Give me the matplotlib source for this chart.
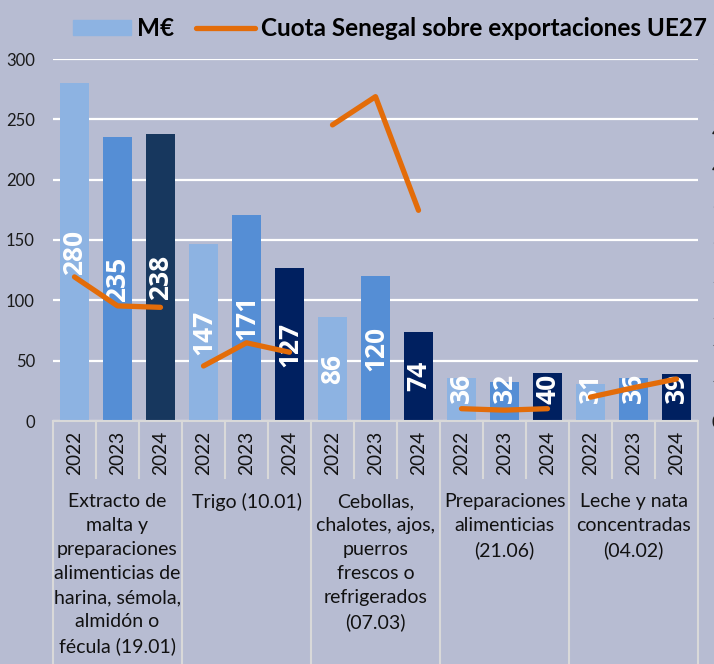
import matplotlib.pyplot as plt
from matplotlib.patches import Patch
from matplotlib.lines import Line2D
from matplotlib.ticker import FuncFormatter
import numpy as np

plt.rcParams['font.family'] = ['Lato', 'DejaVu Sans']

grupos = ['Extracto de\nmalta y\npreparaciones\nalimenticias de\nharina, sémola,\nalmidón o\nfécula (19.01)',
          'Trigo (10.01)',
          'Cebollas,\nchalotes, ajos,\npuerros\nfrescos o\nrefrigerados\n(07.03)',
          'Preparaciones\nalimenticias\n(21.06)',
          'Leche y nata\nconcentradas\n(04.02)']
anios = ['2022', '2023', '2024']
meur = [[280, 235, 238],
        [147, 171, 127],
        [86, 120, 74],
        [36, 32, 40],
        [31, 36, 39]]
cuota = [[1.99, 1.59, 1.57],
         [0.76, 1.08, 0.95],
         [4.09, 4.48, 2.91],
         [0.17, 0.15, 0.17],
         [0.33, 0.46, 0.58]]

fondo = '#b7bcd2'
gris = '#d9d9d9'
naranja = '#e36c09'
colores = [['#8db3e2', '#558ed5', '#17375e']] + [['#8db3e2', '#558ed5', '#002060']] * 4

fig = plt.figure(figsize=(7.14, 6.64), dpi=100, facecolor=fondo)
ax = fig.add_axes([53/714, 243/664, 645/714, 362/664])
ax.set_facecolor(fondo)

n = len(anios)
for g, vals in enumerate(meur):
    xs = np.arange(n) + g * n
    ax.bar(xs, vals, width=0.67, color=colores[g], zorder=2)
    for x, v in zip(xs, vals):
        ax.text(x, max(v / 2, 27), str(v), rotation=90, ha='center', va='center',
                color='white', fontsize=19, fontweight='bold', zorder=4,
                family=['Open Sans', 'DejaVu Sans'])

ax.set_xlim(-0.5, len(grupos) * n - 0.5)
ax.set_ylim(0, 300)
ax.set_yticks(range(0, 301, 50))
ax.yaxis.grid(True, color='white', linewidth=1.6, zorder=0)
ax.set_axisbelow(True)
ax.tick_params(axis='y', length=0, pad=13, labelsize=12, colors='#1a1a1a')
ax.set_xticks([])
for s in ax.spines.values():
    s.set_visible(False)

ax2 = ax.twinx()
for g, vals in enumerate(cuota):
    xs = np.arange(n) + g * n
    ax2.plot(xs, vals, color=naranja, linewidth=3.8, solid_capstyle='round', zorder=5)
ax2.set_ylim(0, 5)
ax2.set_yticks(np.arange(0, 5.01, 0.5))
ax2.yaxis.set_major_formatter(FuncFormatter(lambda v, p: '%d%%' % int(v + 0.5)))
ax2.tick_params(axis='y', length=0, pad=10, labelsize=12, colors='#1a1a1a')
for s in ax2.spines.values():
    s.set_visible(False)

# eje de categorias de dos niveles
tr = ax.get_xaxis_transform()
px = 1 / 362
ax.plot([-0.5, len(grupos) * n - 0.5], [0, 0], color=gris, lw=1.5, transform=tr, clip_on=False)
for i in range(len(grupos) * n + 1):
    x = i - 0.5
    bajo = -243 * px if i % n == 0 else -57 * px
    ax.plot([x, x], [0, bajo], color=gris, lw=1.5, transform=tr, clip_on=False)
for g, nombre in enumerate(grupos):
    for j, a in enumerate(anios):
        ax.text(g * n + j, -10 * px, a, rotation=90, ha='center', va='top',
                fontsize=13.8, transform=tr, color='#111111')
    ax.text(g * n + 1, -72 * px, nombre, ha='center', va='top', fontsize=14,
            linespacing=1.5, transform=tr, color='#111111')

handles = [Patch(color='#8db3e2'), Line2D([], [], color=naranja, lw=3.8, solid_capstyle='round')]
leg = fig.legend(handles, ['M€', 'Cuota Senegal sobre exportaciones UE27'], ncol=2,
                 loc='center', bbox_to_anchor=(0.546, 0.957), frameon=False,
                 handlelength=2.4, handleheight=0.55, columnspacing=0.9, handletextpad=0.25,
                 prop={'weight': 'bold', 'size': 17.5})

fig.savefig('out.png', dpi=100, facecolor=fondo)
